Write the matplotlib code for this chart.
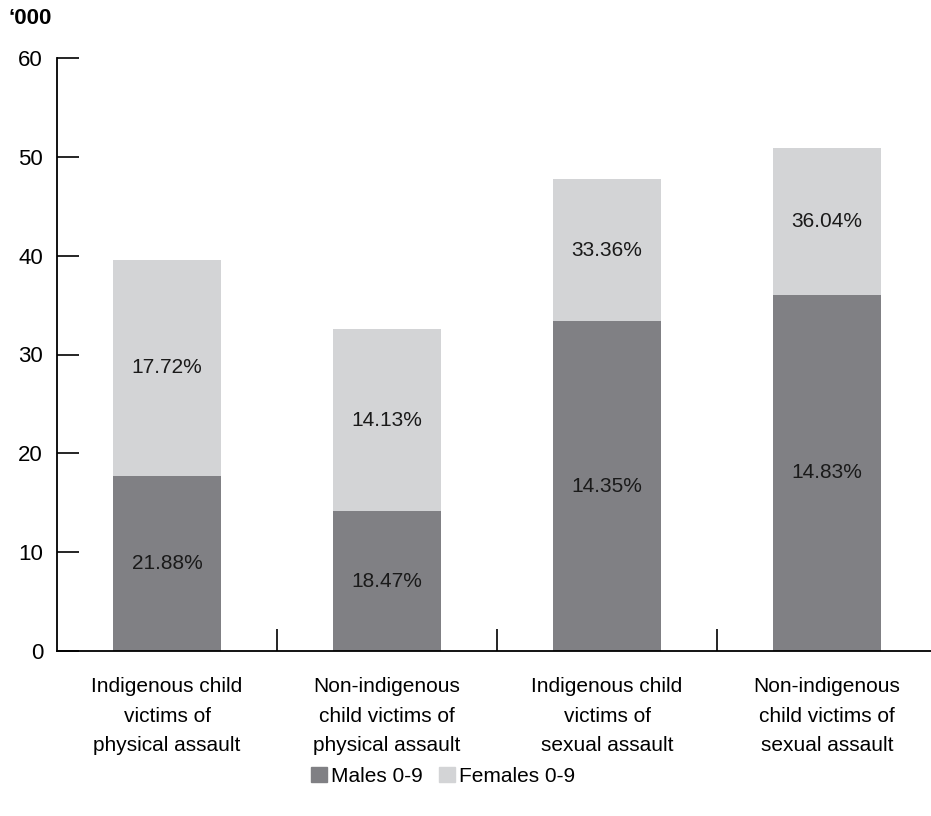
import matplotlib
matplotlib.use("Agg")
import matplotlib.pyplot as plt
from matplotlib.patches import Patch

plt.rcParams['font.family'] = ['Liberation Sans Narrow', 'Liberation Sans', 'DejaVu Sans']

categories = ["Indigenous child\nvictims of\nphysical assault",
              "Non-indigenous\nchild victims of\nphysical assault",
              "Indigenous child\nvictims of\nsexual assault",
              "Non-indigenous\nchild victims of\nsexual assault"]
males = [17.72, 14.13, 33.36, 36.04]
females = [21.88, 18.47, 14.35, 14.83]
male_labels = ["21.88%", "18.47%", "14.35%", "14.83%"]
female_labels = ["17.72%", "14.13%", "33.36%", "36.04%"]
yticks = [0, 10, 20, 30, 40, 50, 60]

dark = "#808084"
light = "#d3d4d6"
fs = 15

fig = plt.figure(figsize=(9.31, 8.16), dpi=100)
ax = fig.add_axes([57/931, 165/816, 880/931, 593/816])

x = list(range(len(categories)))
ax.bar(x, males, width=0.49, color=dark, label="Males 0-9")
ax.bar(x, females, width=0.49, bottom=males, color=light, label="Females 0-9")

for i in x:
    ax.text(i, males[i]/2, male_labels[i], ha='center', va='center', fontsize=fs, color='#1a1a1a')
    ax.text(i, males[i] + females[i]/2, female_labels[i], ha='center', va='center', fontsize=fs, color='#1a1a1a')

ax.set_xlim(-0.5, 3.5)
ax.set_ylim(0, 60)
ax.set_yticks(yticks)
ax.set_xticks(x)
ax.set_xticklabels(categories, fontsize=fs, linespacing=1.68)
ax.set_xticks([0.5, 1.5, 2.5], minor=True)
ax.tick_params(axis='x', which='major', length=0, pad=19)
ax.tick_params(axis='x', which='minor', direction='in', length=16, width=1.2, color='black')
ax.tick_params(axis='y', direction='in', length=16, width=1.2, labelsize=16, pad=10)
for s in ['top', 'right']:
    ax.spines[s].set_visible(False)
for s in ['left', 'bottom']:
    ax.spines[s].set_linewidth(1.3)

fig.text(8/931, 1 - 18/816, "\u2018000", fontsize=16, fontweight='bold', va='center', ha='left')

handles = [Patch(color=dark, label="Males 0-9"), Patch(color=light, label="Females 0-9")]
fig.legend(handles=handles, loc='center', bbox_to_anchor=(443/931, 1 - 776/816), ncol=2,
           frameon=False, fontsize=fs, handlelength=0.75, handleheight=0.75,
           handletextpad=0.2, columnspacing=0.8)

fig.savefig("out.png", dpi=100)
